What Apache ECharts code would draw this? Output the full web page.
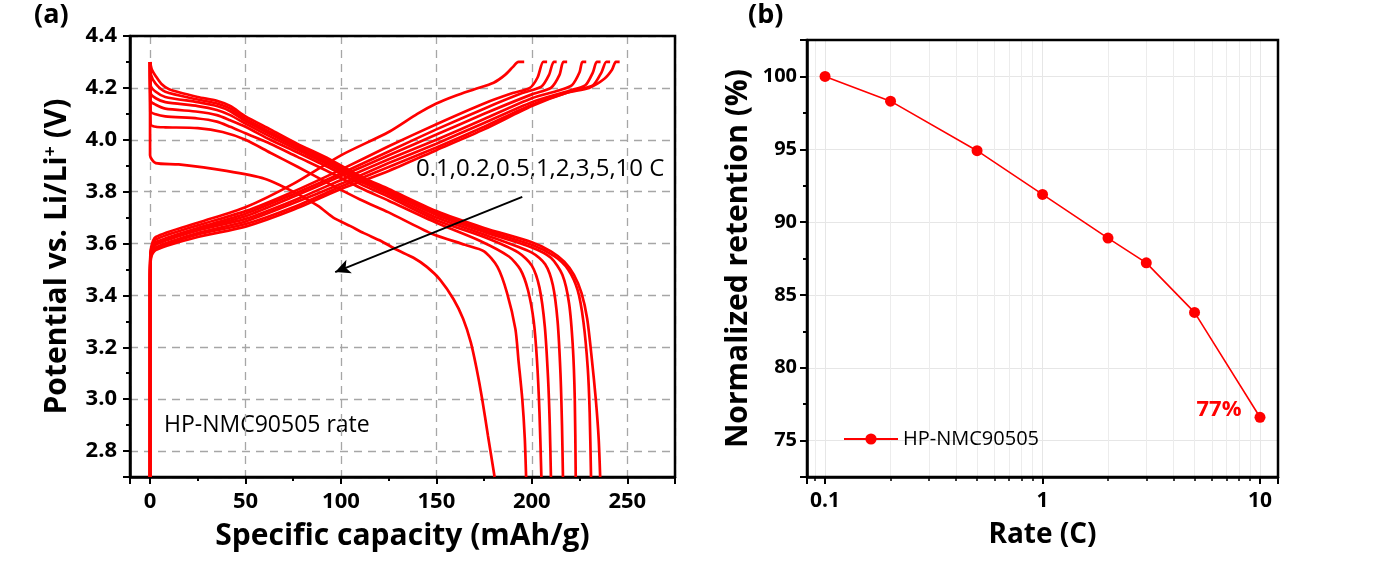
<!DOCTYPE html>
<html>
<head>
<meta charset="utf-8">
<script src="https://cdn.jsdelivr.net/npm/echarts@6.0.0/dist/echarts.min.js"></script>
<style>
  html, body { margin: 0; padding: 0; background: #fff; }
  #chart { width: 1380px; height: 575px; }
</style>
</head>
<body>
<div id="chart"></div>
<script>
// Panel (a): charge / discharge curves, [capacity mAh/g, potential V]
const charge10C = [[0,2.70],[0,3.50],[0.5,3.58],[3,3.625],[25,3.68],[50,3.74],[75,3.83],[100,3.94],[125,4.03],[140,4.10],[150,4.14],[160,4.17],[170,4.195],[180,4.22],[186,4.25],[190,4.28],[193,4.30],[196,4.30]];
const charge5C = [[0,2.70],[0,3.48],[0.5,3.575],[3,3.615],[25,3.67],[50,3.725],[75,3.80],[100,3.885],[125,3.975],[150,4.06],[175,4.14],[190,4.18],[199,4.20],[203,4.24],[206,4.30],[208,4.30]];
const charge3C = [[0,2.70],[0,3.47],[0.5,3.57],[3,3.605],[25,3.66],[50,3.715],[75,3.79],[100,3.87],[125,3.955],[150,4.04],[175,4.12],[195,4.18],[205,4.205],[209,4.25],[211.5,4.30],[213,4.30]];
const charge2C = [[0,2.70],[0,3.46],[0.5,3.565],[3,3.60],[25,3.655],[50,3.705],[75,3.78],[100,3.86],[125,3.94],[150,4.02],[175,4.10],[200,4.175],[210,4.20],[214.5,4.25],[216.5,4.30],[218.5,4.30]];
const charge1C = [[0,2.70],[0,3.45],[0.5,3.56],[3,3.595],[25,3.65],[50,3.695],[75,3.765],[100,3.845],[125,3.925],[150,4.00],[175,4.08],[200,4.16],[214,4.19],[221,4.21],[225,4.26],[226.5,4.30],[228.5,4.30]];
const charge05C = [[0,2.70],[0,3.44],[0.5,3.555],[3,3.585],[25,3.64],[50,3.685],[75,3.755],[100,3.83],[125,3.91],[150,3.985],[175,4.065],[200,4.145],[220,4.19],[228,4.21],[232,4.26],[234,4.30],[236,4.30]];
const charge02C = [[0,2.70],[0,3.43],[0.5,3.55],[3,3.58],[25,3.635],[50,3.675],[75,3.74],[100,3.82],[125,3.895],[150,3.97],[175,4.05],[200,4.135],[222,4.19],[232,4.21],[236.5,4.26],[239,4.30],[241,4.30]];
const charge01C = [[0,2.70],[0,3.42],[0.5,3.545],[3,3.575],[25,3.625],[50,3.665],[75,3.73],[100,3.81],[125,3.88],[150,3.96],[175,4.04],[200,4.13],[218,4.18],[230,4.20],[238,4.235],[242,4.27],[244,4.30],[246,4.30]];

const discharge01C = [[0,4.30],[1,4.27],[3,4.245],[6,4.215],[10,4.195],[25,4.165],[35,4.15],[42,4.13],[50,4.09],[63,4.04],[77,3.985],[94,3.925],[110,3.86],[125,3.81],[150,3.725],[175,3.66],[200,3.605],[210,3.57],[217,3.53],[222,3.48],[226,3.41],[229,3.31],[231.5,3.15],[233.5,3.0],[235,2.85],[235.8,2.7]];
const discharge02C = [[0,4.30],[0.5,4.25],[3,4.215],[8,4.185],[25,4.155],[35,4.14],[42,4.12],[50,4.08],[63,4.03],[77,3.978],[94,3.918],[110,3.855],[125,3.805],[150,3.718],[175,3.652],[200,3.595],[212,3.55],[219,3.50],[224,3.42],[227,3.30],[229.3,3.12],[230.3,2.95],[231,2.7]];
const discharge05C = [[0,4.30],[0.3,4.21],[3,4.185],[8,4.165],[25,4.145],[35,4.13],[42,4.11],[50,4.072],[63,4.022],[77,3.97],[94,3.91],[110,3.848],[125,3.798],[150,3.71],[175,3.645],[200,3.585],[210,3.545],[216,3.48],[219.5,3.37],[221.5,3.20],[222.5,3.0],[223,2.7]];
const discharge1C = [[0,4.30],[0.3,4.18],[3,4.16],[8,4.145],[25,4.13],[35,4.115],[42,4.095],[50,4.062],[63,4.012],[77,3.962],[94,3.902],[110,3.84],[125,3.79],[150,3.70],[175,3.635],[200,3.565],[207,3.52],[211,3.44],[213.5,3.30],[215,3.10],[215.8,2.9],[216.3,2.7]];
const discharge2C = [[0,4.30],[0.3,4.15],[3,4.135],[8,4.12],[25,4.108],[35,4.095],[42,4.075],[50,4.05],[63,4.0],[77,3.952],[94,3.892],[110,3.83],[125,3.78],[150,3.69],[175,3.625],[193,3.565],[200,3.515],[204,3.43],[206.8,3.28],[208.5,3.08],[209.4,2.9],[210,2.7]];
const discharge3C = [[0,4.30],[0.3,4.11],[3,4.098],[8,4.09],[25,4.082],[35,4.07],[42,4.05],[50,4.025],[63,3.985],[77,3.935],[94,3.875],[110,3.815],[125,3.765],[150,3.68],[173,3.61],[188,3.55],[194,3.50],[198,3.42],[201,3.30],[202.7,3.15],[204,2.95],[205,2.7]];
const discharge5C = [[0,4.30],[0.3,4.06],[3,4.05],[8,4.048],[25,4.045],[38,4.03],[50,4.0],[63,3.95],[77,3.897],[94,3.83],[110,3.77],[125,3.72],[147,3.64],[165,3.595],[175,3.57],[182,3.51],[187,3.41],[191.4,3.27],[193,3.15],[195,3.0],[196.3,2.85],[197,2.7]];
const discharge10C = [[0,4.30],[0,3.94],[3,3.91],[15,3.905],[40,3.88],[60,3.85],[75,3.80],[88,3.745],[96,3.70],[105,3.667],[112,3.64],[121,3.61],[129,3.577],[138,3.545],[145,3.51],[152,3.46],[159,3.385],[164,3.31],[168,3.22],[171,3.12],[174,3.0],[177,2.86],[180.5,2.7]];

const rateLabel = '0.1,0.2,0.5,1,2,3,5,10 C';
const arrowFrom = [195, 3.78];
const arrowTo = [97, 3.49];

// Panel (b): normalized retention vs rate
const rates = [0.1, 0.2, 0.5, 1, 2, 3, 5, 10];
const retention = [100, 98.3, 94.9, 91.9, 88.9, 87.2, 83.8, 76.6];
const lastLabel = '77%';

const FONT = 'Open Sans';
const RED = '#ff0000';

const curves = [charge10C, charge5C, charge3C, charge2C, charge1C, charge05C, charge02C, charge01C,
  discharge01C, discharge02C, discharge05C, discharge1C, discharge2C, discharge3C, discharge5C, discharge10C];

const curveSeries = curves.map(d => ({
    type: 'line',
    xAxisIndex: 0,
    yAxisIndex: 0,
    data: d,
    showSymbol: false,
    smooth: 0.25,
    lineStyle: { color: RED, width: 2.7 },
    silent: true,
    z: 3
}));

// arrow annotation on the first curve series
curveSeries[0].markLine = {
    silent: true,
    symbol: ['none', 'arrow'],
    symbolSize: [11, 15],
    label: { show: false },
    lineStyle: { color: '#000', width: 2, type: 'solid' },
    data: [[{ coord: arrowFrom }, { coord: arrowTo }]]
};

const dashGrid = { show: true, lineStyle: { color: '#a6a6a6', width: 1.3, type: [8, 6] } };
const tickLabel = { color: '#000', fontFamily: FONT, fontWeight: 'bold', fontSize: 22 };
const axisTitle = { color: '#000', fontFamily: FONT, fontWeight: 'bold', fontSize: 30 };
const blackLine = { onZero: false, lineStyle: { color: '#000', width: 2.5 } };

const option = {
    animation: false,
    backgroundColor: '#fff',
    grid: [
        { left: 130, top: 36, width: 545, height: 441, show: true, borderColor: '#000', borderWidth: 2.5, z: 1 },
        { left: 807, top: 40, width: 471, height: 437, show: true, borderColor: '#000', borderWidth: 2.5, z: 1 }
    ],
    legend: {
        data: ['HP-NMC90505'],
        left: 838,
        top: 424,
        itemWidth: 54,
        itemHeight: 14,
        textStyle: { fontFamily: FONT, fontSize: 20, color: '#000' }
    },
    xAxis: [
        {
            type: 'value', gridIndex: 0, min: -10.5, max: 275, splitNumber: 6,
            name: 'Specific capacity (mAh/g)', nameLocation: 'middle', nameGap: 44,
            nameTextStyle: axisTitle,
            axisLine: blackLine,
            axisTick: { show: true, length: 7, lineStyle: { color: '#000', width: 2 } },
            minorTick: { show: true, splitNumber: 2, length: 4, lineStyle: { color: '#000', width: 2 } },
            axisLabel: Object.assign({ margin: 14, formatter: v => (Math.abs(v % 50) < 1e-6 ? String(v) : '') }, tickLabel),
            splitLine: dashGrid
        },
        {
            type: 'log', gridIndex: 1, min: 0.0826, max: 12.1, logBase: 10,
            name: 'Rate (C)', nameLocation: 'middle', nameGap: 44,
            nameTextStyle: Object.assign({}, axisTitle, { fontSize: 28 }),
            axisLine: blackLine,
            axisTick: { show: true, length: 7, lineStyle: { color: '#000', width: 2 } },
            minorTick: { show: true, splitNumber: 9, length: 4, lineStyle: { color: '#000', width: 1.5 } },
            minorSplitLine: { show: true, lineStyle: { color: '#ececec', width: 1 } },
            axisLabel: Object.assign({ margin: 14, formatter: v => {
                const l = Math.log10(v);
                return Math.abs(l - Math.round(l)) < 1e-6 ? String(Math.pow(10, Math.round(l))) : '';
            } }, tickLabel, { fontSize: 21 }),
            splitLine: { show: true, lineStyle: { color: '#e6e6e6', width: 1 } }
        }
    ],
    yAxis: [
        {
            type: 'value', gridIndex: 0, min: 2.7, max: 4.4, splitNumber: 8,
            name: '{t|Potential vs. Li/Li}{s|+}{t| (V)}', nameLocation: 'middle', nameGap: 58,
            nameTextStyle: { rich: {
                t: Object.assign({ verticalAlign: 'bottom' }, axisTitle),
                s: { fontFamily: FONT, fontWeight: 'bold', fontSize: 18, color: '#000', verticalAlign: 'top' }
            } },
            axisLine: blackLine,
            axisTick: { show: true, length: 7, lineStyle: { color: '#000', width: 2 } },
            minorTick: { show: true, splitNumber: 2, length: 4, lineStyle: { color: '#000', width: 2 } },
            axisLabel: Object.assign({ margin: 13, formatter: v => {
                const r = Math.round(v * 5) / 5;
                return Math.abs(v - r) < 1e-6 ? v.toFixed(1) : '';
            } }, tickLabel),
            splitLine: dashGrid
        },
        {
            type: 'value', gridIndex: 1, min: 72.5, max: 102.5, splitNumber: 6,
            name: 'Normalized retention (%)', nameLocation: 'middle', nameGap: 54,
            nameTextStyle: axisTitle,
            axisLine: blackLine,
            axisTick: { show: true, length: 7, lineStyle: { color: '#000', width: 2 } },
            minorTick: { show: true, splitNumber: 2, length: 4, lineStyle: { color: '#000', width: 2 } },
            axisLabel: Object.assign({ margin: 10, formatter: v => (Math.abs(v % 5) < 1e-6 ? String(v) : '') }, tickLabel, { fontSize: 20 }),
            splitLine: { show: true, lineStyle: { color: '#e6e6e6', width: 1 } }
        }
    ],
    graphic: [
        { type: 'text', left: 34, top: 2, style: { text: '(a)', font: 'bold 27px "Open Sans"', fill: '#000' } },
        { type: 'text', left: 748, top: 2, style: { text: '(b)', font: 'bold 27px "Open Sans"', fill: '#000' } },
        { type: 'text', left: 416, top: 157, style: { text: rateLabel, font: '24px "Open Sans"', fill: '#000' } },
        { type: 'text', left: 164, top: 414, style: { text: 'HP-NMC90505 rate', font: '23px "Open Sans"', fill: '#000' } }
    ],
    series: curveSeries.concat([
        {
            name: 'HP-NMC90505',
            type: 'line',
            xAxisIndex: 1,
            yAxisIndex: 1,
            data: rates.map((r, i) => {
                const item = { value: [r, retention[i]] };
                if (i === rates.length - 1) {
                    item.label = {
                        show: true, formatter: lastLabel, position: 'left', offset: [-8, -8],
                        color: RED, fontFamily: FONT, fontWeight: 'bold', fontSize: 22
                    };
                }
                return item;
            }),
            symbol: 'circle',
            symbolSize: 11,
            itemStyle: { color: RED },
            lineStyle: { color: RED, width: 1.6 },
            z: 4
        }
    ])
};

const chart = echarts.init(document.getElementById('chart'));
chart.setOption(option);
</script>
</body>
</html>
